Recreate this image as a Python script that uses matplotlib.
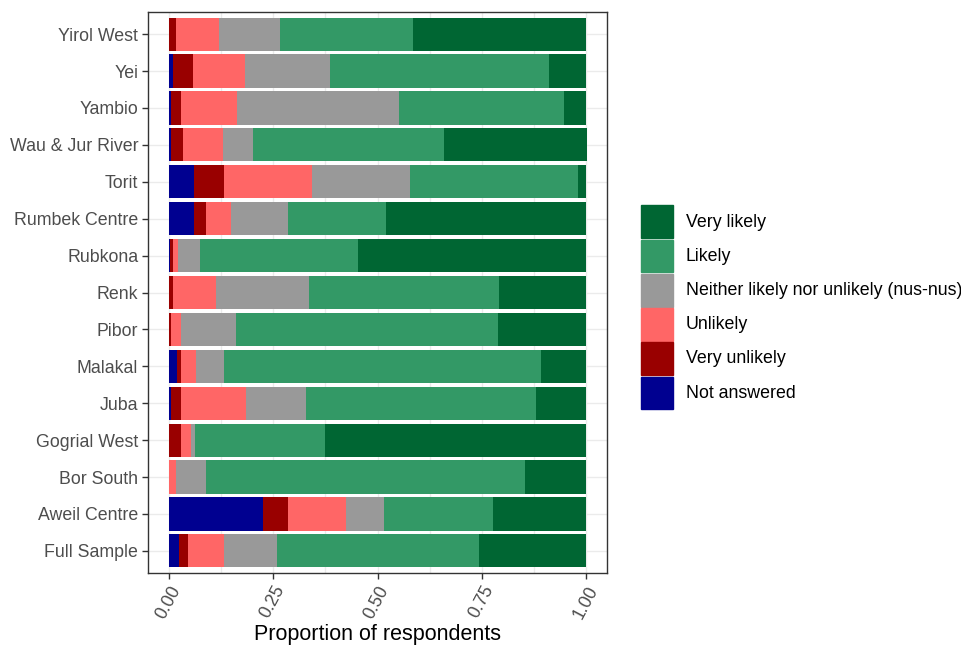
import numpy as np
import matplotlib
matplotlib.use("Agg")
from matplotlib import pyplot as plt
from matplotlib.patches import Rectangle

plt.rcParams['font.family'] = ['Liberation Sans', 'DejaVu Sans']

regions = ["Full Sample", "Aweil Centre", "Bor South", "Gogrial West", "Juba",
           "Malakal", "Pibor", "Renk", "Rubkona", "Rumbek Centre", "Torit",
           "Wau & Jur River", "Yambio", "Yei", "Yirol West"]

# proportions, same order as regions
not_answered  = [0.024, 0.225, 0.000, 0.000, 0.006, 0.019, 0.000, 0.000, 0.003, 0.060, 0.060, 0.004, 0.006, 0.010, 0.000]
very_unlikely = [0.022, 0.061, 0.000, 0.030, 0.023, 0.010, 0.005, 0.011, 0.008, 0.030, 0.072, 0.030, 0.023, 0.049, 0.017]
unlikely      = [0.086, 0.139, 0.018, 0.022, 0.157, 0.037, 0.024, 0.103, 0.011, 0.059, 0.210, 0.096, 0.135, 0.124, 0.104]
neither       = [0.127, 0.091, 0.070, 0.011, 0.142, 0.065, 0.131, 0.223, 0.052, 0.137, 0.236, 0.071, 0.387, 0.202, 0.146]
likely        = [0.484, 0.261, 0.766, 0.312, 0.553, 0.761, 0.629, 0.455, 0.380, 0.235, 0.403, 0.459, 0.397, 0.527, 0.317]
very_likely   = [0.257, 0.223, 0.146, 0.625, 0.119, 0.108, 0.211, 0.208, 0.546, 0.479, 0.019, 0.341, 0.052, 0.088, 0.416]

labels = ["Not answered", "Very unlikely", "Unlikely",
          "Neither likely nor unlikely (nus-nus)", "Likely", "Very likely"]
colors = ["#000090", "#990000", "#FF6666", "#999999", "#339966", "#006633"]
series = [not_answered, very_unlikely, unlikely, neither, likely, very_likely]

W, H = 962, 646
fig = plt.figure(figsize=(W / 100, H / 100), dpi=100)
ax = fig.add_axes([148/W, 1 - 573/H, 459/W, 561/H])

y = np.arange(1, len(regions) + 1)
left = np.zeros(len(regions))
for vals, col in zip(series, colors):
    vals = np.array(vals)
    ax.barh(y, vals, left=left, height=0.9, color=col, linewidth=0, zorder=3)
    left += vals

ax.set_xlim(-0.05, 1.05)
ax.set_ylim(0.4, len(regions) + 0.6)
ax.set_yticks(y)
ax.set_yticklabels(regions)
ax.set_xticks([0, 0.25, 0.5, 0.75, 1.0])
ax.set_xticklabels(["0.00", "0.25", "0.50", "0.75", "1.00"], rotation=62,
                   ha="right", va="top", rotation_mode="anchor")
ax.set_xticks([0.125, 0.375, 0.625, 0.875], minor=True)
ax.tick_params(axis="both", which="major", labelsize=12.8, labelcolor="#4d4d4d",
               color="#333333", length=4, width=1, pad=3)
ax.tick_params(axis="x", which="minor", length=0)
ax.grid(True, which="both", color="#ebebeb", linewidth=1, zorder=0)
for s in ax.spines.values():
    s.set_color("#333333")
    s.set_linewidth(1)
ax.set_xlabel("Proportion of respondents", fontsize=15.5, labelpad=2)

# legend drawn as stacked keys like ggplot
key_x, key_w, key_h, top = 641, 32, 34.2, 205
for i, (lab, col) in enumerate(zip(labels[::-1], colors[::-1])):
    y0 = top + i * key_h
    fig.patches.append(Rectangle(((key_x) / W, 1 - (y0 + key_h - 1) / H),
                                 key_w / W, (key_h - 1.5) / H, color=col,
                                 transform=fig.transFigure, figure=fig))
    fig.text(686 / W, 1 - (y0 + key_h / 2) / H, lab, fontsize=12.8,
             va="center", ha="left", color="black")

fig.savefig("out.png", dpi=100)
